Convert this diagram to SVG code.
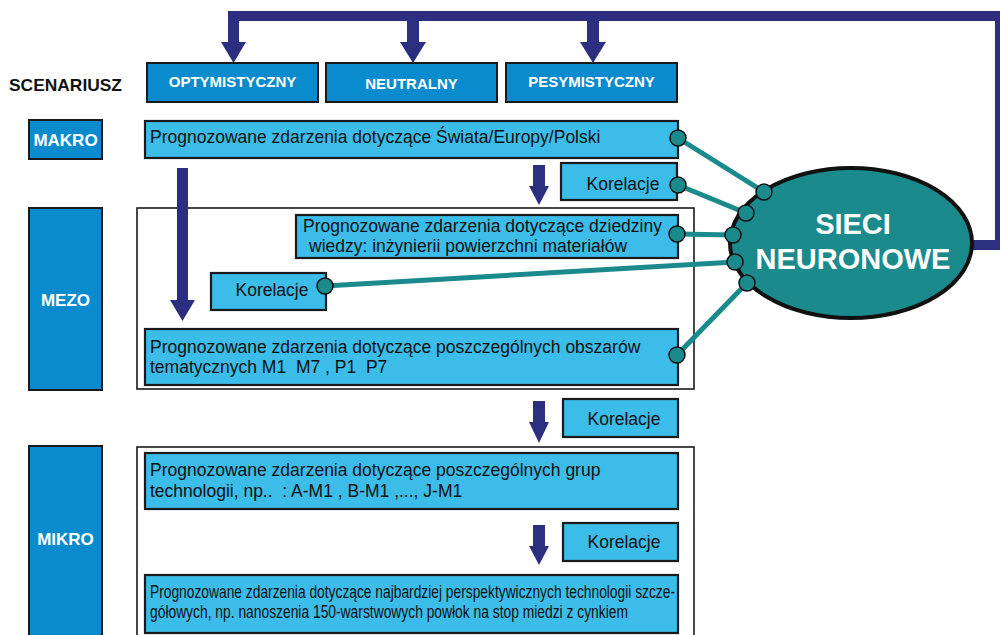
<svg xmlns="http://www.w3.org/2000/svg" width="1000" height="635" viewBox="0 0 1000 635">
<style>
.dark{fill:#0a8bcd;stroke:#1a1a1a;stroke-width:2}
.light{fill:#3bbce9;stroke:#1a1a1a;stroke-width:2.2}
.cont{fill:#ffffff;stroke:#1a1a1a;stroke-width:1.6}
.navy{fill:#2c2f80}
.lbl{font-family:"Liberation Sans",Arial,sans-serif;font-weight:bold;fill:#ffffff}
.txt{font-family:"Liberation Sans",Arial,sans-serif;fill:#111111;font-size:17.5px;white-space:pre}
.link{stroke:#1a8a8c;stroke-width:5;fill:none}
.dot{fill:#1a8a8c;stroke:#111111;stroke-width:1.5}
</style>
<rect width="1000" height="635" fill="#ffffff"/>

<!-- feedback bar -->
<g id="feedback" class="navy">
<rect x="228" y="11" width="775" height="10"/>
<rect x="995" y="11" width="8" height="239"/>
<rect x="960" y="240" width="43" height="10"/>
<polygon points="228,21 239,21 239,42 246,42 233.5,63 221,42 228,42"/>
<polygon points="407,21 419,21 419,42 426,42 413,63 400,42 407,42"/>
<polygon points="587,21 599,21 599,42 606,42 593,63 580,42 587,42"/>
</g>

<text x="9" y="91" font-family="Liberation Sans,Arial,sans-serif" font-weight="bold" font-size="17" fill="#111" textLength="113" lengthAdjust="spacingAndGlyphs">SCENARIUSZ</text>

<g id="opt"><rect class="dark" x="147" y="63" width="171" height="39"/><text class="lbl" x="232.5" y="87" font-size="15" text-anchor="middle">OPTYMISTYCZNY</text></g>
<g id="neu"><rect class="dark" x="326" y="63" width="171" height="39"/><text class="lbl" x="411.5" y="89" font-size="15" text-anchor="middle">NEUTRALNY</text></g>
<g id="pes"><rect class="dark" x="506" y="63" width="171" height="39"/><text class="lbl" x="591.5" y="87" font-size="15" text-anchor="middle">PESYMISTYCZNY</text></g>

<g id="makro-lbl"><rect class="dark" x="29" y="120" width="73" height="39"/><text class="lbl" x="65.5" y="146" font-size="17" text-anchor="middle">MAKRO</text></g>
<g id="makro"><rect class="light" x="145" y="121" width="533" height="37"/><text class="txt" x="150" y="143">Prognozowane zdarzenia dotyczące Świata/Europy/Polski</text></g>

<g id="kor1"><rect class="light" x="561" y="163" width="116" height="37"/><text class="txt" x="623" y="190" text-anchor="middle">Korelacje</text></g>

<g id="mezo-lbl"><rect class="dark" x="29" y="208" width="73" height="182"/><text class="lbl" x="65.5" y="306" font-size="17" text-anchor="middle">MEZO</text></g>
<g id="mezo"><rect class="cont" x="137" y="208" width="557" height="181"/></g>
<g id="dziedzina"><rect class="light" x="296" y="215" width="382" height="43"/><text class="txt" x="303" y="232">Prognozowane zdarzenia dotyczące dziedziny</text><text class="txt" x="309" y="252">wiedzy: inżynierii powierzchni materiałów</text></g>
<g id="kor-mezo"><rect class="light" x="211" y="273" width="115" height="37"/><text class="txt" x="272" y="296" text-anchor="middle">Korelacje</text></g>
<g id="obszary"><rect class="light" x="145" y="329" width="533" height="56"/><text class="txt" x="150" y="353">Prognozowane zdarzenia dotyczące poszczególnych obszarów</text><text class="txt" x="150" y="373">tematycznych M1  M7 , P1  P7</text></g>

<g id="kor2"><rect class="light" x="563" y="399" width="115" height="38"/><text class="txt" x="624" y="425" text-anchor="middle">Korelacje</text></g>

<g id="mikro-lbl"><rect class="dark" x="29" y="446" width="73" height="200"/><text class="lbl" x="65.5" y="545" font-size="17" text-anchor="middle">MIKRO</text></g>
<g id="mikro"><rect class="cont" x="137" y="447" width="557" height="200"/></g>
<g id="grupy"><rect class="light" x="145" y="453" width="533" height="56"/><text class="txt" x="150" y="476">Prognozowane zdarzenia dotyczące poszczególnych grup</text><text class="txt" x="150" y="497">technologii, np..  : A-M1 , B-M1 ,..., J-M1</text></g>
<g id="kor3"><rect class="light" x="563" y="523" width="115" height="38"/><text class="txt" x="624" y="548" text-anchor="middle">Korelacje</text></g>
<g id="perspektywy"><rect class="light" x="145" y="575" width="533" height="58"/><text class="txt" x="150" y="598" font-size="14.5" textLength="525" lengthAdjust="spacingAndGlyphs">Prognozowane zdarzenia dotyczące najbardziej perspektywicznych technologii szcze-</text><text class="txt" x="150" y="618" font-size="14.5" textLength="478" lengthAdjust="spacingAndGlyphs">gółowych, np. nanoszenia 150-warstwowych powłok na stop miedzi z cynkiem</text></g>

<!-- flow arrows -->
<g id="flow" class="navy">
<polygon points="177,168 188,168 188,300 195,300 182.5,321 170,300 177,300"/>
<polygon points="533,165 545,165 545,186 549,186 539,205 529,186 533,186"/>
<polygon points="533,401 545,401 545,422 549,422 539,443 529,422 533,422"/>
<polygon points="533,525 545,525 545,546 549,546 539,565 529,546 533,546"/>
</g>

<g id="sieci">
<ellipse cx="851" cy="243" rx="121" ry="75" fill="#1a8a8c" stroke="#111" stroke-width="4"/>
<text class="lbl" x="853" y="234" font-size="29" text-anchor="middle">SIECI</text>
<text class="lbl" x="853" y="269" font-size="29" text-anchor="middle">NEURONOWE</text>
</g>

<g id="connectors">
<line class="link" x1="678" y1="138" x2="764" y2="192"/>
<line class="link" x1="678" y1="185" x2="746" y2="213"/>
<line class="link" x1="677" y1="234" x2="733" y2="235"/>
<line class="link" x1="325" y1="286" x2="735" y2="262"/>
<line class="link" x1="677" y1="355" x2="747" y2="283"/>
<circle class="dot" cx="678" cy="138" r="8"/>
<circle class="dot" cx="678" cy="185" r="8"/>
<circle class="dot" cx="677" cy="234" r="8"/>
<circle class="dot" cx="325" cy="286" r="8"/>
<circle class="dot" cx="677" cy="355" r="8"/>
<circle class="dot" cx="764" cy="192" r="8"/>
<circle class="dot" cx="746" cy="213" r="8"/>
<circle class="dot" cx="733" cy="235" r="8"/>
<circle class="dot" cx="735" cy="262" r="8"/>
<circle class="dot" cx="747" cy="283" r="8"/>
</g>
</svg>
